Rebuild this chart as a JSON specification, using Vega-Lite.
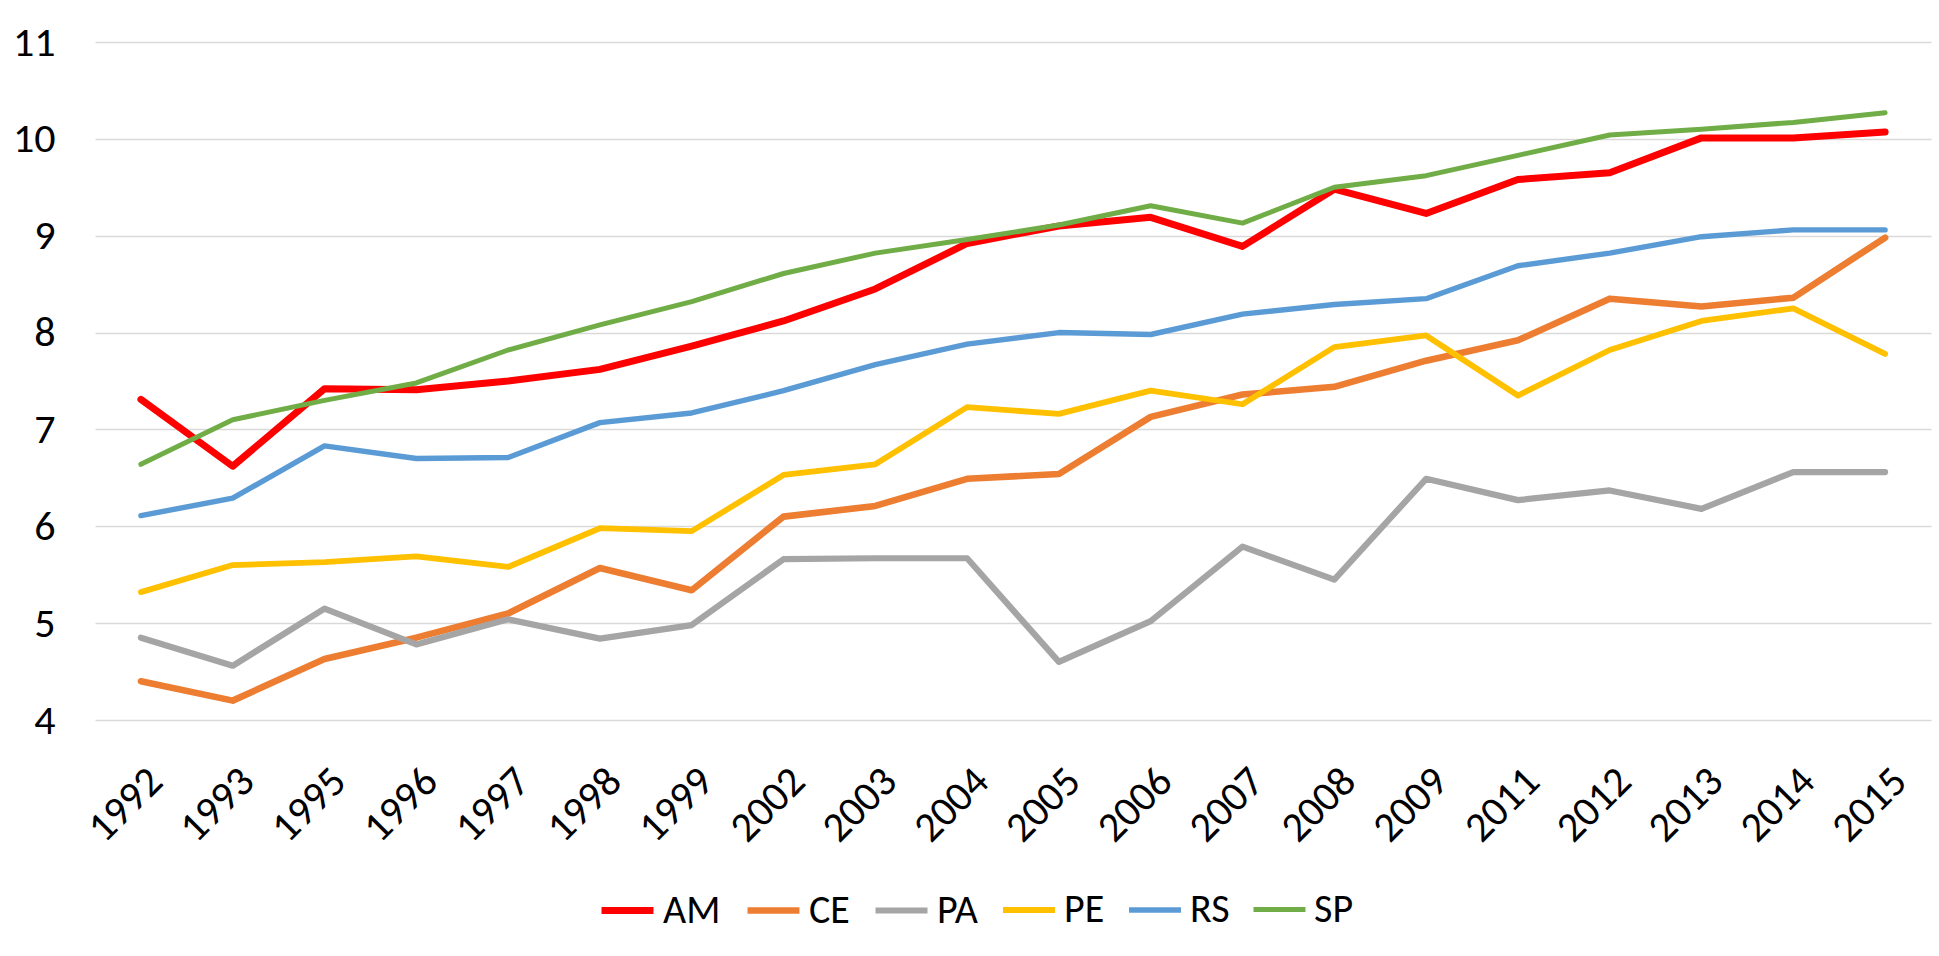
{
  "$schema": "https://vega.github.io/schema/vega-lite/v6.json",
  "width": 1836,
  "height": 678,
  "autosize": "none",
  "padding": {"left": 95, "top": 42, "right": 8, "bottom": 236},
  "background": "white",
  "config": {
    "font": "Carlito, Liberation Sans, sans-serif",
    "view": {"stroke": null}
  },
  "data": {
    "values": [
      {"year": "1992", "state": "AM", "value": 7.31}, {"year": "1993", "state": "AM", "value": 6.62}, {"year": "1995", "state": "AM", "value": 7.42}, {"year": "1996", "state": "AM", "value": 7.41}, {"year": "1997", "state": "AM", "value": 7.50}, {"year": "1998", "state": "AM", "value": 7.62}, {"year": "1999", "state": "AM", "value": 7.86}, {"year": "2002", "state": "AM", "value": 8.12}, {"year": "2003", "state": "AM", "value": 8.45}, {"year": "2004", "state": "AM", "value": 8.92}, {"year": "2005", "state": "AM", "value": 9.10}, {"year": "2006", "state": "AM", "value": 9.19}, {"year": "2007", "state": "AM", "value": 8.89}, {"year": "2008", "state": "AM", "value": 9.48}, {"year": "2009", "state": "AM", "value": 9.23}, {"year": "2011", "state": "AM", "value": 9.58}, {"year": "2012", "state": "AM", "value": 9.65}, {"year": "2013", "state": "AM", "value": 10.01}, {"year": "2014", "state": "AM", "value": 10.01}, {"year": "2015", "state": "AM", "value": 10.07},
      {"year": "1992", "state": "CE", "value": 4.40}, {"year": "1993", "state": "CE", "value": 4.20}, {"year": "1995", "state": "CE", "value": 4.63}, {"year": "1996", "state": "CE", "value": 4.85}, {"year": "1997", "state": "CE", "value": 5.10}, {"year": "1998", "state": "CE", "value": 5.57}, {"year": "1999", "state": "CE", "value": 5.34}, {"year": "2002", "state": "CE", "value": 6.10}, {"year": "2003", "state": "CE", "value": 6.21}, {"year": "2004", "state": "CE", "value": 6.49}, {"year": "2005", "state": "CE", "value": 6.54}, {"year": "2006", "state": "CE", "value": 7.13}, {"year": "2007", "state": "CE", "value": 7.36}, {"year": "2008", "state": "CE", "value": 7.44}, {"year": "2009", "state": "CE", "value": 7.71}, {"year": "2011", "state": "CE", "value": 7.92}, {"year": "2012", "state": "CE", "value": 8.35}, {"year": "2013", "state": "CE", "value": 8.27}, {"year": "2014", "state": "CE", "value": 8.36}, {"year": "2015", "state": "CE", "value": 8.98},
      {"year": "1992", "state": "PA", "value": 4.85}, {"year": "1993", "state": "PA", "value": 4.56}, {"year": "1995", "state": "PA", "value": 5.15}, {"year": "1996", "state": "PA", "value": 4.78}, {"year": "1997", "state": "PA", "value": 5.04}, {"year": "1998", "state": "PA", "value": 4.84}, {"year": "1999", "state": "PA", "value": 4.98}, {"year": "2002", "state": "PA", "value": 5.66}, {"year": "2003", "state": "PA", "value": 5.67}, {"year": "2004", "state": "PA", "value": 5.67}, {"year": "2005", "state": "PA", "value": 4.60}, {"year": "2006", "state": "PA", "value": 5.02}, {"year": "2007", "state": "PA", "value": 5.79}, {"year": "2008", "state": "PA", "value": 5.45}, {"year": "2009", "state": "PA", "value": 6.49}, {"year": "2011", "state": "PA", "value": 6.27}, {"year": "2012", "state": "PA", "value": 6.37}, {"year": "2013", "state": "PA", "value": 6.18}, {"year": "2014", "state": "PA", "value": 6.56}, {"year": "2015", "state": "PA", "value": 6.56},
      {"year": "1992", "state": "PE", "value": 5.32}, {"year": "1993", "state": "PE", "value": 5.60}, {"year": "1995", "state": "PE", "value": 5.63}, {"year": "1996", "state": "PE", "value": 5.69}, {"year": "1997", "state": "PE", "value": 5.58}, {"year": "1998", "state": "PE", "value": 5.98}, {"year": "1999", "state": "PE", "value": 5.95}, {"year": "2002", "state": "PE", "value": 6.53}, {"year": "2003", "state": "PE", "value": 6.64}, {"year": "2004", "state": "PE", "value": 7.23}, {"year": "2005", "state": "PE", "value": 7.16}, {"year": "2006", "state": "PE", "value": 7.40}, {"year": "2007", "state": "PE", "value": 7.26}, {"year": "2008", "state": "PE", "value": 7.85}, {"year": "2009", "state": "PE", "value": 7.97}, {"year": "2011", "state": "PE", "value": 7.35}, {"year": "2012", "state": "PE", "value": 7.82}, {"year": "2013", "state": "PE", "value": 8.12}, {"year": "2014", "state": "PE", "value": 8.25}, {"year": "2015", "state": "PE", "value": 7.78},
      {"year": "1992", "state": "RS", "value": 6.11}, {"year": "1993", "state": "RS", "value": 6.29}, {"year": "1995", "state": "RS", "value": 6.83}, {"year": "1996", "state": "RS", "value": 6.70}, {"year": "1997", "state": "RS", "value": 6.71}, {"year": "1998", "state": "RS", "value": 7.07}, {"year": "1999", "state": "RS", "value": 7.17}, {"year": "2002", "state": "RS", "value": 7.40}, {"year": "2003", "state": "RS", "value": 7.67}, {"year": "2004", "state": "RS", "value": 7.88}, {"year": "2005", "state": "RS", "value": 8.00}, {"year": "2006", "state": "RS", "value": 7.98}, {"year": "2007", "state": "RS", "value": 8.19}, {"year": "2008", "state": "RS", "value": 8.29}, {"year": "2009", "state": "RS", "value": 8.35}, {"year": "2011", "state": "RS", "value": 8.69}, {"year": "2012", "state": "RS", "value": 8.82}, {"year": "2013", "state": "RS", "value": 8.99}, {"year": "2014", "state": "RS", "value": 9.06}, {"year": "2015", "state": "RS", "value": 9.06},
      {"year": "1992", "state": "SP", "value": 6.64}, {"year": "1993", "state": "SP", "value": 7.10}, {"year": "1995", "state": "SP", "value": 7.30}, {"year": "1996", "state": "SP", "value": 7.48}, {"year": "1997", "state": "SP", "value": 7.82}, {"year": "1998", "state": "SP", "value": 8.08}, {"year": "1999", "state": "SP", "value": 8.32}, {"year": "2002", "state": "SP", "value": 8.61}, {"year": "2003", "state": "SP", "value": 8.82}, {"year": "2004", "state": "SP", "value": 8.96}, {"year": "2005", "state": "SP", "value": 9.11}, {"year": "2006", "state": "SP", "value": 9.31}, {"year": "2007", "state": "SP", "value": 9.13}, {"year": "2008", "state": "SP", "value": 9.50}, {"year": "2009", "state": "SP", "value": 9.62}, {"year": "2011", "state": "SP", "value": 9.83}, {"year": "2012", "state": "SP", "value": 10.04}, {"year": "2013", "state": "SP", "value": 10.10}, {"year": "2014", "state": "SP", "value": 10.17}, {"year": "2015", "state": "SP", "value": 10.27}
    ]
  },
  "mark": {"type": "line", "strokeCap": "round", "strokeJoin": "round"},
  "encoding": {
    "x": {
      "field": "year",
      "type": "ordinal",
      "scale": {"type": "point", "padding": 0.5},
      "axis": {
        "title": null,
        "labelAngle": -45,
        "labelFontSize": 42,
        "labelColor": "#000000",
        "labelPadding": 40,
        "ticks": false,
        "domain": false,
        "grid": false
      }
    },
    "y": {
      "field": "value",
      "type": "quantitative",
      "scale": {"domain": [4, 11], "nice": false, "zero": false},
      "axis": {
        "title": null,
        "values": [4, 5, 6, 7, 8, 9, 10, 11],
        "labelFontSize": 42,
        "labelColor": "#000000",
        "labelPadding": 40,
        "ticks": false,
        "domain": false,
        "grid": true,
        "gridColor": "#D9D9D9",
        "gridWidth": 1.5
      }
    },
    "color": {
      "field": "state",
      "type": "nominal",
      "scale": {
        "domain": ["AM", "CE", "PA", "PE", "RS", "SP"],
        "range": ["#FF0000", "#ED7D31", "#A5A5A5", "#FFC000", "#5B9BD5", "#70AD47"]
      },
      "legend": {
        "title": null,
        "orient": "none",
        "legendX": 503,
        "legendY": 839,
        "direction": "horizontal",
        "gridAlign": "none",
        "symbolType": "stroke",
        "symbolSize": 2700,
        "labelFontSize": 40,
        "labelColor": "#000000",
        "labelOffset": 6,
        "columnPadding": 13
      }
    },
    "strokeWidth": {
      "field": "state",
      "type": "nominal",
      "scale": {
        "domain": ["AM", "CE", "PA", "PE", "RS", "SP"],
        "range": [7, 5, 5, 5, 5, 5]
      },
      "legend": {
        "title": null,
        "orient": "none",
        "legendX": 503,
        "legendY": 839,
        "direction": "horizontal",
        "gridAlign": "none",
        "symbolType": "stroke",
        "symbolSize": 2700,
        "labelFontSize": 40,
        "labelColor": "#000000",
        "labelOffset": 6,
        "columnPadding": 13
      }
    }
  }
}
